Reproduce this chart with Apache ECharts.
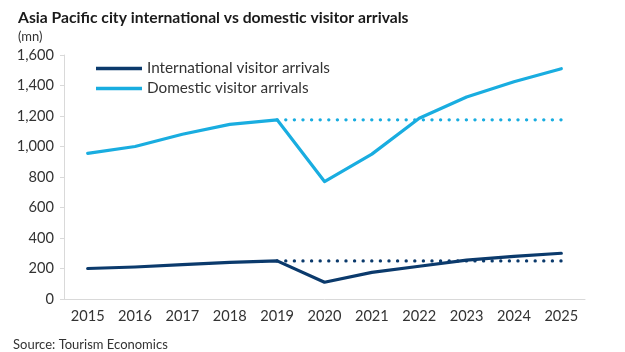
<!DOCTYPE html>
<html>
<head>
<meta charset="utf-8">
<script src="https://cdn.jsdelivr.net/npm/echarts@6/dist/echarts.min.js"></script>
<style>
  html, body { margin: 0; padding: 0; background: #fff; }
  #chart { width: 625px; height: 352px; }
</style>
</head>
<body>
<div id="chart"></div>
<script>
// data (mn)
var years = ['2015', '2016', '2017', '2018', '2019', '2020', '2021', '2022', '2023', '2024', '2025'];
var international = [200, 210, 225, 240, 250, 110, 175, 215, 255, 280, 300];
var domestic = [955, 1000, 1080, 1145, 1175, 770, 950, 1185, 1325, 1425, 1510];
// flat 2019 level carried forward (dotted)
var intlFlat = [null, null, null, null, 250, 250, 250, 250, 250, 250, 250];
var domFlat = [null, null, null, null, 1175, 1175, 1175, 1175, 1175, 1175, 1175];

var navy = '#0b3a6c';
var cyan = '#19ade0';
var font = 'Lato';

var chart = echarts.init(document.getElementById('chart'));

var option = {
    animation: false,
    title: [{
        text: 'Asia Pacific city international vs domestic visitor arrivals',
        left: 13,
        top: 5,
        textStyle: { fontFamily: font, fontSize: 15.7, fontWeight: 'bold', color: '#1a1a1a' }
    }, {
        text: '(mn)',
        left: 13,
        top: 25,
        textStyle: { fontFamily: font, fontSize: 13, fontWeight: 'normal', color: '#333' }
    }, {
        text: 'Source: Tourism Economics',
        left: 8,
        top: 333,
        textStyle: { fontFamily: font, fontSize: 13, fontWeight: 'normal', color: '#333' }
    }],
    legend: {
        orient: 'vertical',
        left: 91,
        top: 56,
        itemGap: 5,
        itemWidth: 46,
        itemHeight: 15,
        textStyle: { fontFamily: font, fontSize: 15.3, color: '#333' },
        data: [
            { name: 'International visitor arrivals', icon: 'path://M0,5.5 L46,5.5 L46,9 L0,9 Z', itemStyle: { color: navy } },
            { name: 'Domestic visitor arrivals', icon: 'path://M0,5.5 L46,5.5 L46,9 L0,9 Z', itemStyle: { color: cyan } }
        ]
    },
    grid: { left: 64, right: 40, top: 55, bottom: 53 },
    xAxis: {
        type: 'category',
        data: years,
        boundaryGap: true,
        axisLine: { lineStyle: { color: '#d9d9d9', width: 1 } },
        axisTick: { alignWithLabel: true, length: 5, lineStyle: { color: '#d9d9d9' } },
        axisLabel: { fontFamily: font, fontSize: 14.6, color: '#333', margin: 10 }
    },
    yAxis: {
        type: 'value',
        min: 0,
        max: 1600,
        interval: 200,
        splitLine: { show: false },
        axisLine: { show: true, lineStyle: { color: '#d9d9d9', width: 1 } },
        axisTick: { show: true, length: 4, lineStyle: { color: '#d9d9d9' } },
        axisLabel: {
            fontFamily: font, fontSize: 14.6, color: '#333', margin: 10,
            formatter: function (v) { return v.toLocaleString('en-US'); }
        }
    },
    series: [{
        name: 'International visitor arrivals',
        type: 'line',
        data: international,
        symbol: 'none',
        lineStyle: { color: navy, width: 3.2, cap: 'round', join: 'round' },
        itemStyle: { color: navy },
        z: 3
    }, {
        name: 'Domestic visitor arrivals',
        type: 'line',
        data: domestic,
        symbol: 'none',
        lineStyle: { color: cyan, width: 3.2, cap: 'round', join: 'round' },
        itemStyle: { color: cyan },
        z: 3
    }, {
        name: 'intl flat',
        type: 'line',
        data: intlFlat,
        symbol: 'none',
        lineStyle: { color: navy, width: 3.3, type: [0.1, 8.5], cap: 'round' },
        z: 2
    }, {
        name: 'dom flat',
        type: 'line',
        data: domFlat,
        symbol: 'none',
        lineStyle: { color: cyan, width: 3.3, type: [0.1, 8.5], cap: 'round' },
        z: 2
    }]
};

chart.setOption(option);
</script>
</body>
</html>
